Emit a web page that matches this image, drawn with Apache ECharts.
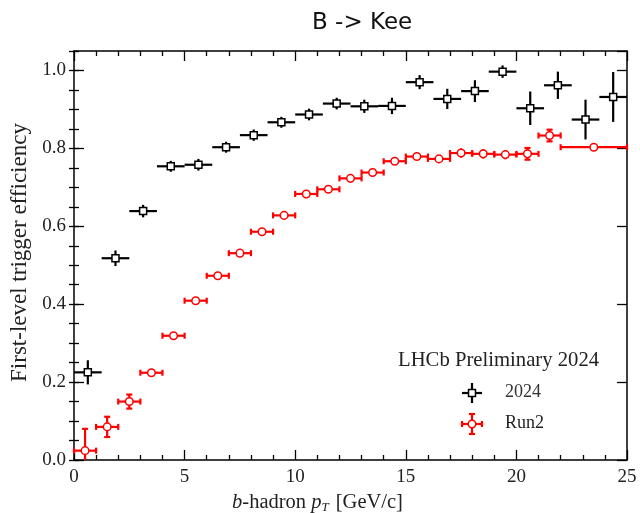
<!DOCTYPE html>
<html>
<head>
<meta charset="utf-8">
<script src="https://cdn.jsdelivr.net/npm/echarts@6/dist/echarts.min.js"></script>
<style>html,body{margin:0;padding:0;background:#fff;}#c{width:640px;height:513px;}</style>
</head>
<body>
<div id="c"></div>
<script>
// ---- data ----
const edges2024 = [0, 1.25, 2.5, 3.75, 5, 6.25, 7.5, 8.75, 10, 11.25, 12.5, 13.75, 15, 16.25, 17.5, 18.75, 20, 21.25, 22.5, 23.75, 25];
const eff2024 = [0.225, 0.518, 0.639, 0.754, 0.758, 0.803, 0.834, 0.867, 0.887, 0.915, 0.908, 0.909, 0.970, 0.927, 0.947, 0.997, 0.903, 0.962, 0.874, 0.932];
const err2024 = [0.031, 0.020, 0.016, 0.014, 0.015, 0.014, 0.0145, 0.014, 0.015, 0.015, 0.017, 0.021, 0.018, 0.026, 0.028, 0.016, 0.043, 0.035, 0.051, 0.064];

const edgesRun2 = [0, 1, 2, 3, 4, 5, 6, 7, 8, 9, 10, 11, 12, 13, 14, 15, 16, 17, 18, 19, 20, 21, 22, 25];
const effRun2 = [0.024, 0.085, 0.150, 0.224, 0.319, 0.409, 0.473, 0.531, 0.586, 0.628, 0.683, 0.695, 0.723, 0.738, 0.767, 0.779, 0.773, 0.788, 0.786, 0.784, 0.786, 0.833, 0.803];
const errLoRun2 = [0.024, 0.026, 0.018, 0.010, 0.008, 0.007, 0.007, 0.007, 0.007, 0.007, 0.006, 0.006, 0.006, 0.006, 0.006, 0.007, 0.008, 0.012, 0.012, 0.012, 0.015, 0.015, 0.006];
const errHiRun2 = [0.056, 0.026, 0.018, 0.010, 0.008, 0.007, 0.007, 0.007, 0.007, 0.007, 0.006, 0.006, 0.006, 0.006, 0.006, 0.007, 0.008, 0.012, 0.012, 0.012, 0.015, 0.015, 0.006];

const xTicks = [0, 5, 10, 15, 20, 25];
const yTicks = [0.0, 0.2, 0.4, 0.6, 0.8, 1.0];

// ---- build ----
function buildData(edges, vals, lo, hi) {
  return vals.map((v, i) => {
    const a = edges[i], b = edges[i + 1];
    return [(a + b) / 2, v, a, b, v - lo[i], v + hi[i]];
  });
}
const data2024 = buildData(edges2024, eff2024, err2024, err2024);
const dataRun2 = buildData(edgesRun2, effRun2, errLoRun2, errHiRun2);

function renderer(color, marker, cap) {
  return function (params, api) {
    const x = api.value(0), y = api.value(1);
    const c = api.coord([x, y]);
    const pl = api.coord([api.value(2), y]);
    const ph = api.coord([api.value(3), y]);
    const pb = api.coord([x, api.value(4)]);
    const pt = api.coord([x, api.value(5)]);
    const st = { stroke: color, lineWidth: 2.2 };
    const ch = [
      { type: 'line', shape: { x1: pl[0], y1: c[1], x2: ph[0], y2: c[1] }, style: st },
      { type: 'line', shape: { x1: c[0], y1: pb[1], x2: c[0], y2: pt[1] }, style: st }
    ];
    if (cap) {
      const h = 3;
      ch.push({ type: 'line', shape: { x1: pl[0], y1: c[1] - h, x2: pl[0], y2: c[1] + h }, style: st });
      ch.push({ type: 'line', shape: { x1: ph[0], y1: c[1] - h, x2: ph[0], y2: c[1] + h }, style: st });
      if (c[1] - pt[1] > 5) {
        ch.push({ type: 'line', shape: { x1: c[0] - h, y1: pt[1], x2: c[0] + h, y2: pt[1] }, style: st });
      }
      if (pb[1] - c[1] > 5 && api.value(4) > 0.001) {
        ch.push({ type: 'line', shape: { x1: c[0] - h, y1: pb[1], x2: c[0] + h, y2: pb[1] }, style: st });
      }
    }
    if (marker === 'square') {
      ch.push({ type: 'rect', shape: { x: c[0] - 3.5, y: c[1] - 3.5, width: 7, height: 7 }, style: { fill: '#fff', stroke: color, lineWidth: 1.5 } });
    } else {
      ch.push({ type: 'circle', shape: { cx: c[0], cy: c[1], r: 3.8 }, style: { fill: '#fff', stroke: color, lineWidth: 1.5 } });
    }
    return { type: 'group', children: ch };
  };
}

const serif = 'Liberation Serif';
const tickCol = '#222';
function xAx(pos, labels) {
  return {
    type: 'value', position: pos, min: 0, max: 25, interval: 5,
    axisLine: { show: true, onZero: false, lineStyle: { color: '#000', width: 1.5 } },
    axisTick: { show: true, inside: true, length: 10, lineStyle: { color: '#000', width: 1.3 } },
    minorTick: { show: true, splitNumber: 5, length: 5, lineStyle: { color: '#000', width: 1.3 } },
    splitLine: { show: false },
    axisLabel: labels ? {
      show: true, margin: 8, fontFamily: serif, fontSize: 19, color: tickCol,
      formatter: v => xTicks.indexOf(v) >= 0 ? String(v) : ''
    } : { show: false },
    name: labels ? '{i|b}-hadron {i|p}{sub|T} [GeV/c]' : '',
    nameLocation: 'middle', nameGap: 30,
    nameTextStyle: {
      fontFamily: serif, fontSize: 20.5, color: tickCol, padding: [0, 66, 0, 0],
      rich: {
        i: { fontFamily: serif, fontSize: 20.5, fontStyle: 'italic', color: tickCol },
        sub: { fontFamily: serif, fontSize: 13, fontStyle: 'italic', color: tickCol, padding: [10, 2, 0, 0] }
      }
    }
  };
}
function yAxMajor(pos, labels) {
  return {
    type: 'value', position: pos, min: 0, max: 1.05, interval: 0.2,
    axisLine: { show: true, onZero: false, lineStyle: { color: '#000', width: 1.5 } },
    axisTick: { show: true, inside: true, length: 10, lineStyle: { color: '#000', width: 1.3 } },
    splitLine: { show: false },
    axisLabel: labels ? {
      show: true, margin: 8, fontFamily: serif, fontSize: 19, color: tickCol,
      showMaxLabel: false,
      formatter: v => {
        const k = yTicks.findIndex(t => Math.abs(t - v) < 1e-6);
        return k >= 0 ? yTicks[k].toFixed(1) : '';
      }
    } : { show: false },
    name: labels ? 'First-level trigger efficiency' : '',
    nameLocation: 'middle', nameGap: 34,
    nameTextStyle: { fontFamily: serif, fontSize: 23, color: tickCol, padding: [0, 0, 0, 6] }
  };
}
function yAxMinor(pos) {
  return {
    type: 'value', position: pos, min: 0, max: 1.05, interval: 0.05,
    axisLine: { show: false },
    axisTick: { show: true, inside: true, length: 5, lineStyle: { color: '#000', width: 1.3 } },
    splitLine: { show: false },
    axisLabel: { show: false }
  };
}

const chart = echarts.init(document.getElementById('c'), null, { renderer: 'canvas' });
const lx = 472, ly1 = 393, ly2 = 424;
chart.setOption({
  animation: false,
  backgroundColor: '#fff',
  title: {
    text: 'B -> Kee', left: 307, top: 7,
    textStyle: { fontFamily: 'DejaVu Sans', fontSize: 23, fontWeight: 'normal', color: '#111' }
  },
  grid: { left: 74, right: 13, top: 51, bottom: 53, containLabel: false, outerBoundsMode: 'none' },
  xAxis: [xAx('bottom', true), xAx('top', false)],
  yAxis: [yAxMajor('left', true), yAxMinor('left'), yAxMajor('right', false), yAxMinor('right')],
  series: [
    { name: 'Run2', type: 'custom', xAxisIndex: 0, yAxisIndex: 0, renderItem: renderer('#ff0000', 'circle', true), data: dataRun2, z: 2 },
    { name: '2024', type: 'custom', xAxisIndex: 0, yAxisIndex: 0, renderItem: renderer('#000000', 'square', false), data: data2024, z: 3 }
  ],
  graphic: [
    { type: 'text', left: 398, top: 350, style: { text: 'LHCb Preliminary 2024', fontFamily: serif, fontSize: 20.7, fill: '#222' } },
    { type: 'line', shape: { x1: lx - 10, y1: ly1, x2: lx + 10, y2: ly1 }, style: { stroke: '#000', lineWidth: 2.2 } },
    { type: 'line', shape: { x1: lx, y1: ly1 - 10, x2: lx, y2: ly1 + 10 }, style: { stroke: '#000', lineWidth: 2.2 } },
    { type: 'rect', shape: { x: lx - 3.5, y: ly1 - 3.5, width: 7, height: 7 }, style: { fill: '#fff', stroke: '#000', lineWidth: 1.5 } },
    { type: 'text', left: 505, top: ly1 - 10, style: { text: '2024', fontFamily: serif, fontSize: 18, fill: '#333' } },
    { type: 'line', shape: { x1: lx - 10, y1: ly2, x2: lx + 10, y2: ly2 }, style: { stroke: '#f00', lineWidth: 2.2 } },
    { type: 'line', shape: { x1: lx, y1: ly2 - 10, x2: lx, y2: ly2 + 10 }, style: { stroke: '#f00', lineWidth: 2.2 } },
    { type: 'line', shape: { x1: lx - 10, y1: ly2 - 3, x2: lx - 10, y2: ly2 + 3 }, style: { stroke: '#f00', lineWidth: 2.2 } },
    { type: 'line', shape: { x1: lx + 10, y1: ly2 - 3, x2: lx + 10, y2: ly2 + 3 }, style: { stroke: '#f00', lineWidth: 2.2 } },
    { type: 'line', shape: { x1: lx - 3, y1: ly2 - 10, x2: lx + 3, y2: ly2 - 10 }, style: { stroke: '#f00', lineWidth: 2.2 } },
    { type: 'line', shape: { x1: lx - 3, y1: ly2 + 10, x2: lx + 3, y2: ly2 + 10 }, style: { stroke: '#f00', lineWidth: 2.2 } },
    { type: 'circle', shape: { cx: lx, cy: ly2, r: 3.8 }, style: { fill: '#fff', stroke: '#f00', lineWidth: 1.5 } },
    { type: 'text', left: 505, top: ly2 - 10, style: { text: 'Run2', fontFamily: serif, fontSize: 18, fill: '#222' } }
  ]
});
</script>
</body>
</html>
